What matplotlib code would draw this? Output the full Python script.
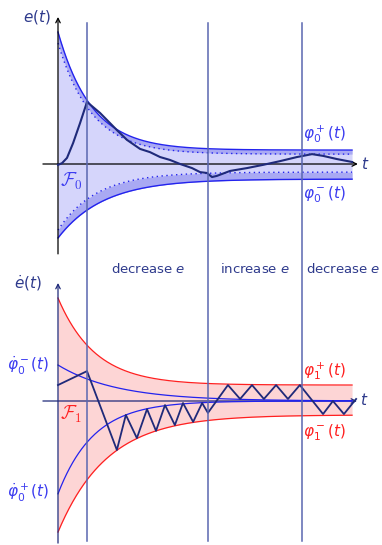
import numpy as np
import matplotlib.pyplot as plt

# --- performance envelopes: (value at t=0, limit value, decay rate) ---
PHI0_UP = (4.55, 0.48, 0.86)
PHI0_LO = (-2.55, -0.52, 0.64)
PHI0_UP_DOT = (4.17, 0.34, 0.86)
PHI0_LO_DOT = (-2.28, -0.28, 0.76)

PHI1_UP = (3.55, 0.55, 0.78)
PHI1_LO = (-4.52, -0.48, 0.59)
DPHI0_MINUS = (1.24, 0.0, 0.49)
DPHI0_PLUS = (-3.2, 0.0, 0.81)

T_END = 10.14
switch_times = [1.0, 5.17, 8.41]
phase_labels = ["decrease $e$", "increase $e$", "decrease $e$"]
phase_label_t = [3.1, 6.79, 9.83]

# error trajectory e(t)
e_t = [0.0, 0.14, 0.31, 0.52, 0.76, 1.0, 1.45, 2.03, 2.38, 2.83, 3.17, 3.52,
       3.86, 4.21, 4.62, 4.9, 5.14, 5.31, 5.48, 5.93, 6.52, 7.07, 7.66, 8.24,
       8.76, 9.14, 9.62, 10.14]
e_val = [-0.03, 0.03, 0.21, 0.72, 1.41, 2.14, 1.76, 1.17, 0.83, 0.52, 0.41, 0.24,
         0.14, 0.0, -0.14, -0.28, -0.31, -0.45, -0.41, -0.24, -0.14, -0.03, 0.1, 0.24,
         0.34, 0.28, 0.17, 0.07]

# error derivative de/dt (switching)
de_t = [0.0, 1.0, 2.03, 2.34, 2.72, 3.07, 3.38, 3.69, 4.03, 4.31, 4.66, 4.97,
        5.17, 5.86, 6.28, 6.69, 7.1, 7.52, 7.93, 8.34, 9.14, 9.48, 9.86, 10.28]
de_val = [0.55, 1.03, -1.69, -0.48, -1.28, -0.28, -1.03, -0.14, -0.83, -0.07, -0.72, -0.07,
          -0.41, 0.55, 0.07, 0.55, 0.07, 0.55, 0.07, 0.55, -0.45, 0.0, -0.45, 0.07]

NAVY = "#1f2a7a"
TEXT = "#2e3a8c"
BLUE = "#2323ee"
LBLUE = "#3b3bf0"
RED = "#ff2020"
VLINE = "#5a67b0"


def envelope(t, params):
    start, end, rate = params
    return (start - end) * np.exp(-rate * t) + end


def arrow(ax, x0, y0, x1, y1, color):
    ax.annotate("", xy=(x1, y1), xytext=(x0, y0),
                arrowprops=dict(arrowstyle="->", lw=0.9, color=color,
                                shrinkA=0, shrinkB=0, mutation_scale=8))


plt.rcParams["mathtext.fontset"] = "dejavusans"
plt.rcParams["font.family"] = "DejaVu Sans"

fig = plt.figure(figsize=(3.82, 5.45), dpi=100)
ax1 = fig.add_axes([0, 290 / 545, 1, 255 / 545])
ax2 = fig.add_axes([0, 0, 1, 290 / 545])
u = 29.0
for ax in (ax1, ax2):
    ax.set_xlim(-58 / u, 324 / u)
    ax.axis("off")
ax1.set_ylim(-91 / u, 164 / u)
ax2.set_ylim(-144 / u, 146 / u)

t = np.linspace(0, T_END, 400)

# ---------------- e(t) panel ----------------
up, lo = envelope(t, PHI0_UP), envelope(t, PHI0_LO)
up_d, lo_d = envelope(t, PHI0_UP_DOT), envelope(t, PHI0_LO_DOT)
ax1.fill_between(t, lo, up, color="#d5d5fb", lw=0, zorder=1)
ax1.fill_between(t, up_d, up, color="#a9a9f3", lw=0, zorder=1)
ax1.fill_between(t, lo, lo_d, color="#a9a9f3", lw=0, zorder=1)
ax1.plot(t, up, color=BLUE, lw=1.0, zorder=2)
ax1.plot(t, lo, color=BLUE, lw=1.0, zorder=2)
ax1.plot(t, up_d, color=BLUE, lw=1.0, ls=(0, (1, 2.5)), zorder=2)
ax1.plot(t, lo_d, color=BLUE, lw=1.0, ls=(0, (1, 2.5)), zorder=2)
ax1.plot(e_t, e_val, color=NAVY, lw=1.5, zorder=4, solid_joinstyle="round")

arrow(ax1, -0.52, 0, 10.34, 0, "black")
arrow(ax1, 0, -3.1, 0, 5.07, "black")
ax1.text(10.6, 0, "$t$", color=TEXT, fontsize=11, ha="center", va="center")
ax1.text(-0.72, 5.07, "$e(t)$", color=TEXT, fontsize=11, ha="center", va="center")
ax1.text(0.45, -0.59, r"$\mathcal{F}_0$", color=LBLUE, fontsize=13.5,
         ha="center", va="center", math_fontfamily="cm")
ax1.text(9.17, 1.03, r"$\varphi_0^+(t)$", color=LBLUE, fontsize=11, ha="center", va="center")
ax1.text(9.17, -1.07, r"$\varphi_0^-(t)$", color=LBLUE, fontsize=11, ha="center", va="center")

for ts in switch_times:
    ax1.plot([ts, ts], [-91 / u, 4.86], color=VLINE, lw=1.1, zorder=5)

# ---------------- de/dt panel ----------------
r_up, r_lo = envelope(t, PHI1_UP), envelope(t, PHI1_LO)
ax2.fill_between(t, r_lo, r_up, color="#fdd5d5", lw=0, zorder=1)
ax2.plot(t, r_up, color=RED, lw=0.9, zorder=2)
ax2.plot(t, r_lo, color=RED, lw=0.9, zorder=2)

arrow(ax2, -0.52, 0, 10.31, 0, NAVY)
ax2.plot(t, envelope(t, DPHI0_MINUS), color=BLUE, lw=0.9, zorder=3)
ax2.plot(t, envelope(t, DPHI0_PLUS), color=BLUE, lw=0.9, zorder=3)
arrow(ax2, 0, -4.9, 0, 4.07, NAVY)
ax2.plot(de_t, de_val, color=NAVY, lw=1.3, zorder=4)

ax2.text(10.55, 0.03, "$t$", color=TEXT, fontsize=11, ha="center", va="center")
ax2.text(-1.03, 4.07, r"$\dot{e}(t)$", color=TEXT, fontsize=11, ha="center", va="center")
ax2.text(0.45, -0.45, r"$\mathcal{F}_1$", color=RED, fontsize=13.5,
         ha="center", va="center", math_fontfamily="cm")
ax2.text(-1.03, 1.21, r"$\dot{\varphi}_0^-(t)$", color=LBLUE, fontsize=11, ha="center", va="center")
ax2.text(-1.03, -3.17, r"$\dot{\varphi}_0^+(t)$", color=LBLUE, fontsize=11, ha="center", va="center")
ax2.text(9.17, 1.03, r"$\varphi_1^+(t)$", color=RED, fontsize=11, ha="center", va="center")
ax2.text(9.17, -1.10, r"$\varphi_1^-(t)$", color=RED, fontsize=11, ha="center", va="center")

for ts in switch_times:
    ax2.plot([ts, ts], [-4.83, 146 / u], color=VLINE, lw=1.1, zorder=5)
for lab, tx in zip(phase_labels, phase_label_t):
    ax2.text(tx, 4.55, lab, color=TEXT, fontsize=9.5, ha="center", va="center")

fig.savefig("out.png", dpi=100)
